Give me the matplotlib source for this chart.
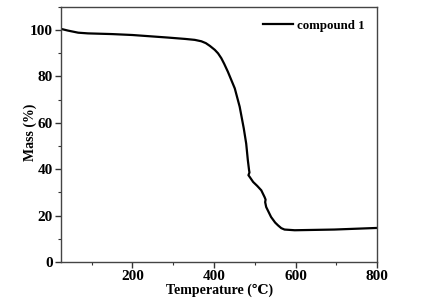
import matplotlib
matplotlib.use("Agg")
import matplotlib.pyplot as plt
from matplotlib.ticker import MultipleLocator

temperature = [28, 42, 67, 91, 150, 200, 287, 330, 353, 369, 380, 390, 402, 410, 418, 425,
               434, 451, 463, 473, 479, 483, 486, 487, 484.5, 487, 496, 506, 516, 524, 526.5,
               525.5, 528, 540, 550, 557, 565, 573, 598, 695, 801]
mass = [100.3, 99.7, 98.8, 98.5, 98.2, 97.8, 96.7, 96.1, 95.7, 95.1, 94.3, 93.1, 91.4, 89.9,
        87.8, 85.4, 82.0, 74.8, 66.9, 57.6, 51.0, 43.9, 39.6, 38.6, 37.4, 36.8, 34.5, 32.8,
        30.9, 28.0, 26.9, 25.8, 23.7, 19.4, 17.0, 15.8, 14.6, 14.0, 13.7, 14.0, 14.7]
series_label = "compound 1"
x_ticks = [200, 400, 600, 800]
y_ticks = [0, 20, 40, 60, 80, 100]

fam = ['Liberation Serif', 'DejaVu Serif']
plt.rcParams['font.family'] = fam
plt.rcParams['font.weight'] = 'bold'

fig = plt.figure(figsize=(4.3, 3.04), dpi=100)
ax = fig.add_axes([0.142, 0.138, 0.735, 0.840])
ax.plot(temperature, mass, color='black', lw=1.6, label=series_label)
ax.set_xlim(25, 800)
ax.set_ylim(0, 110)
ax.set_xticks(x_ticks)
ax.set_yticks(y_ticks)
ax.xaxis.set_minor_locator(MultipleLocator(100))
ax.yaxis.set_minor_locator(MultipleLocator(10))
ax.tick_params(which='major', direction='out', length=4, width=1, labelsize=11, pad=2,
               top=False, right=False, colors='#333333', labelcolor='black')
ax.tick_params(which='minor', direction='out', length=2.5, width=0.8,
               top=False, right=False, colors='#333333')
for lab in ax.get_xticklabels() + ax.get_yticklabels():
    lab.set_fontweight('bold')
for s in ax.spines.values():
    s.set_color('#444444')
    s.set_linewidth(1.0)
ax.set_xlabel('Temperature (℃)', fontsize=10, fontweight='bold', labelpad=0)
ax.set_ylabel('Mass (%)', fontsize=10, fontweight='bold')
ax.yaxis.set_label_coords(-0.076, 0.51)
leg = ax.legend(loc='upper right', frameon=False, fontsize=9.3, handlelength=2.3,
                borderaxespad=0.6, handletextpad=0.3)
for t in leg.get_texts():
    t.set_fontweight('bold')
fig.savefig('out.png', dpi=100)
